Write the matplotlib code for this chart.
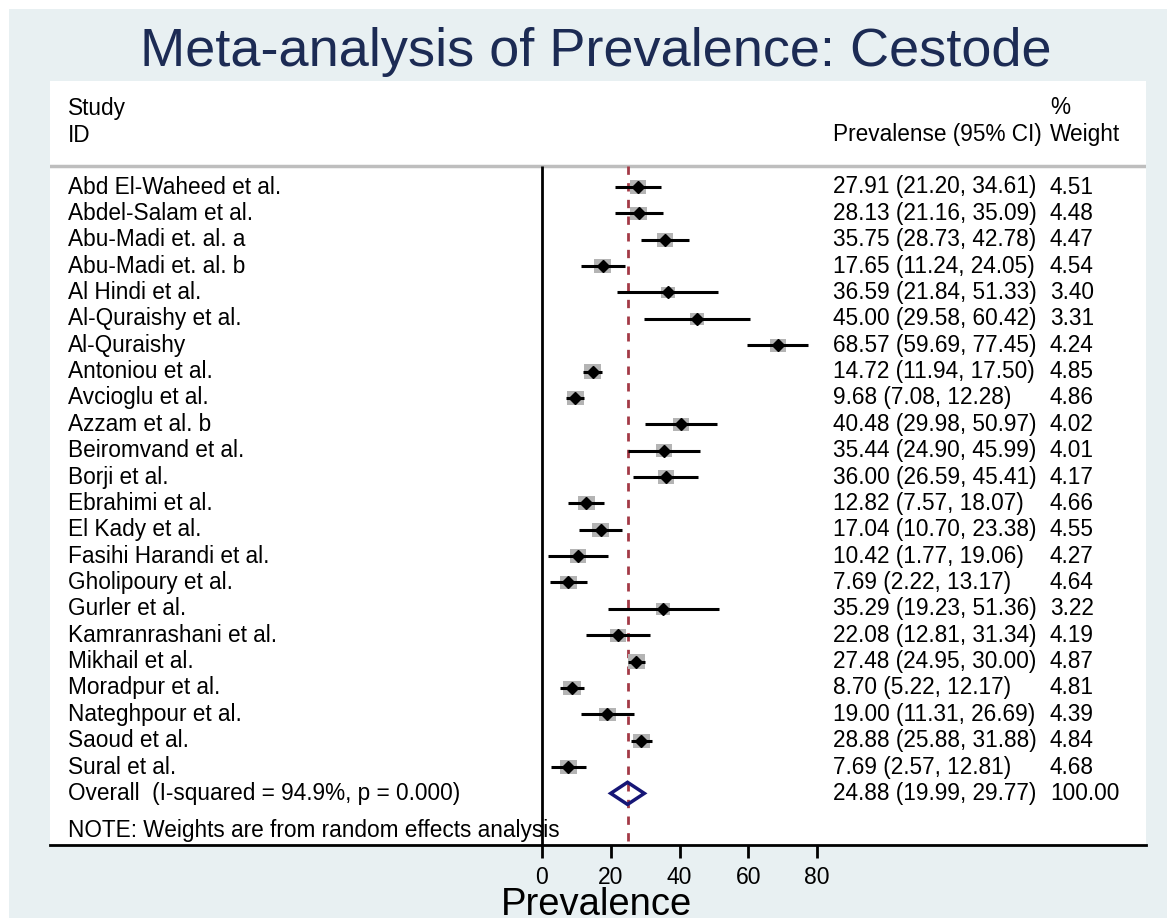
import matplotlib.pyplot as plt
from matplotlib.patches import Rectangle, Polygon
import matplotlib.transforms as mtransforms
import numpy as np

plt.rcParams['font.family'] = ['Liberation Sans', 'DejaVu Sans']

# Datos del forest plot
estudios = ["Abd El-Waheed et al.", "Abdel-Salam et al.", "Abu-Madi et. al. a",
            "Abu-Madi et. al. b", "Al Hindi et al.", "Al-Quraishy et al.",
            "Al-Quraishy", "Antoniou et al.", "Avcioglu et al.", "Azzam et al. b",
            "Beiromvand et al.", "Borji et al.", "Ebrahimi et al.", "El Kady et al.",
            "Fasihi Harandi et al.", "Gholipoury et al.", "Gurler et al.",
            "Kamranrashani et al.", "Mikhail et al.", "Moradpur et al.",
            "Nateghpour et al.", "Saoud et al.", "Sural et al."]
prev = [27.91, 28.13, 35.75, 17.65, 36.59, 45.00, 68.57, 14.72, 9.68, 40.48,
        35.44, 36.00, 12.82, 17.04, 10.42, 7.69, 35.29, 22.08, 27.48, 8.70,
        19.00, 28.88, 7.69]
ci_low = [21.20, 21.16, 28.73, 11.24, 21.84, 29.58, 59.69, 11.94, 7.08, 29.98,
          24.90, 26.59, 7.57, 10.70, 1.77, 2.22, 19.23, 12.81, 24.95, 5.22,
          11.31, 25.88, 2.57]
ci_high = [34.61, 35.09, 42.78, 24.05, 51.33, 60.42, 77.45, 17.50, 12.28, 50.97,
           45.99, 45.41, 18.07, 23.38, 19.06, 13.17, 51.36, 31.34, 30.00, 12.17,
           26.69, 31.88, 12.81]
peso = [4.51, 4.48, 4.47, 4.54, 3.40, 3.31, 4.24, 4.85, 4.86, 4.02, 4.01, 4.17,
        4.66, 4.55, 4.27, 4.64, 3.22, 4.19, 4.87, 4.81, 4.39, 4.84, 4.68]
overall = (24.88, 19.99, 29.77)
overall_label = "Overall  (I-squared = 94.9%, p = 0.000)"

W, H = 1167, 918
fig = plt.figure(figsize=(W / 100, H / 100), dpi=100, facecolor='white')
bg = '#E8F0F2'
fig.patches.append(Rectangle((9 / W, 0), 1 - 9 / W, 1 - 9 / H, transform=fig.transFigure,
                             facecolor=bg, edgecolor='none', zorder=-10))

# Región blanca del gráfico (en píxeles)
x0, x1, y0, y1 = 50, 1146, 81, 845
ax = fig.add_axes([x0 / W, 1 - y1 / H, (x1 - x0) / W, (y1 - y0) / H])
ax.set_facecolor('white')

px_unit = 275 / 80.0          # píxeles por unidad de prevalencia
row_px = 26.364               # píxeles por fila
cero_px, fila0_px = 542, 187
ax.set_xlim((x0 - cero_px) / px_unit, (x1 - cero_px) / px_unit)
ytop = (y0 - fila0_px) / row_px
ybot = (y1 - fila0_px) / row_px
ax.set_ylim(ybot, ytop)

for s in ['left', 'right', 'top']:
    ax.spines[s].set_visible(False)
ax.spines['bottom'].set_linewidth(2)
ax.set_yticks([])
ax.set_xticks([0, 20, 40, 60, 80])
ax.tick_params(axis='x', direction='out', length=9, width=2, labelsize=16.5, pad=6)

linea_sup = (166 - fila0_px) / row_px
ax.axhline(linea_sup, color='#BEBEBE', lw=2.5, zorder=1)
ax.vlines(0, linea_sup, ybot, color='black', lw=2, zorder=2)
ax.vlines(overall[0], linea_sup, ybot, color='#A33A46', lw=2, linestyles=(0, (3, 3)), zorder=2)

fs = 16.3
xt_est = (68 - x0) / (x1 - x0)
xt_ci = (833 - x0) / (x1 - x0)
xt_w = (1050 - x0) / (x1 - x0)
trb = mtransforms.blended_transform_factory(ax.transAxes, ax.transData)

for i, (nom, p, lo, hi, w) in enumerate(zip(estudios, prev, ci_low, ci_high, peso)):
    lado = 7.86 * np.sqrt(w)
    ancho = lado / px_unit
    alto = 0.82 * lado / row_px
    ax.add_patch(Rectangle((p - ancho / 2, i - alto / 2), ancho, alto,
                           facecolor='#B4B4B4', edgecolor='none', zorder=3))
    ax.plot([lo, hi], [i, i], color='black', lw=2.2, zorder=4, solid_capstyle='butt')
    ax.plot(p, i, marker='D', ms=6, color='black', zorder=5)
    ax.text(xt_est, i, nom, transform=trb, fontsize=fs, va='center', ha='left')
    ax.text(xt_ci, i, f"{p:.2f} ({lo:.2f}, {hi:.2f})", transform=trb,
            fontsize=fs, va='center', ha='left')
    ax.text(xt_w, i, f"{w:.2f}", transform=trb, fontsize=fs, va='center', ha='left')

# Diamante del efecto global
fila_ov = len(estudios)
m, lo, hi = overall
ax.add_patch(Polygon([[lo, fila_ov], [m, fila_ov - 0.42], [hi, fila_ov], [m, fila_ov + 0.42]],
                     closed=True, facecolor='none', edgecolor='#161676', lw=2.5, zorder=5))
ax.text(xt_est, fila_ov, overall_label, transform=trb, fontsize=fs, va='center')
ax.text(xt_ci, fila_ov, f"{m:.2f} ({lo:.2f}, {hi:.2f})", transform=trb, fontsize=fs, va='center')
ax.text(xt_w, fila_ov, "100.00", transform=trb, fontsize=fs, va='center')
ax.text(xt_est, (831 - fila0_px) / row_px, "NOTE: Weights are from random effects analysis",
        transform=trb, fontsize=fs, va='center')

# Encabezados
f_study = (108 - fila0_px) / row_px
f_id = (135 - fila0_px) / row_px
ax.text(xt_est, f_study, "Study", transform=trb, fontsize=fs, va='center')
ax.text(xt_est, f_id, "ID", transform=trb, fontsize=fs, va='center')
ax.text(xt_ci, f_id, "Prevalense (95% CI)", transform=trb, fontsize=fs, va='center')
ax.text(xt_w, f_study, "%", transform=trb, fontsize=fs, va='center')
ax.text(xt_w, f_id, "Weight", transform=trb, fontsize=fs, va='center')

fig.text(596 / W, 1 - 52 / H, "Meta-analysis of Prevalence: Cestode", fontsize=39,
         color='#1C2B54', ha='center', va='center')
fig.text(597 / W, 1 - 915 / H, "Prevalence", fontsize=27.5, ha='center', va='baseline')

fig.savefig('out.png', dpi=100, facecolor=fig.get_facecolor())
